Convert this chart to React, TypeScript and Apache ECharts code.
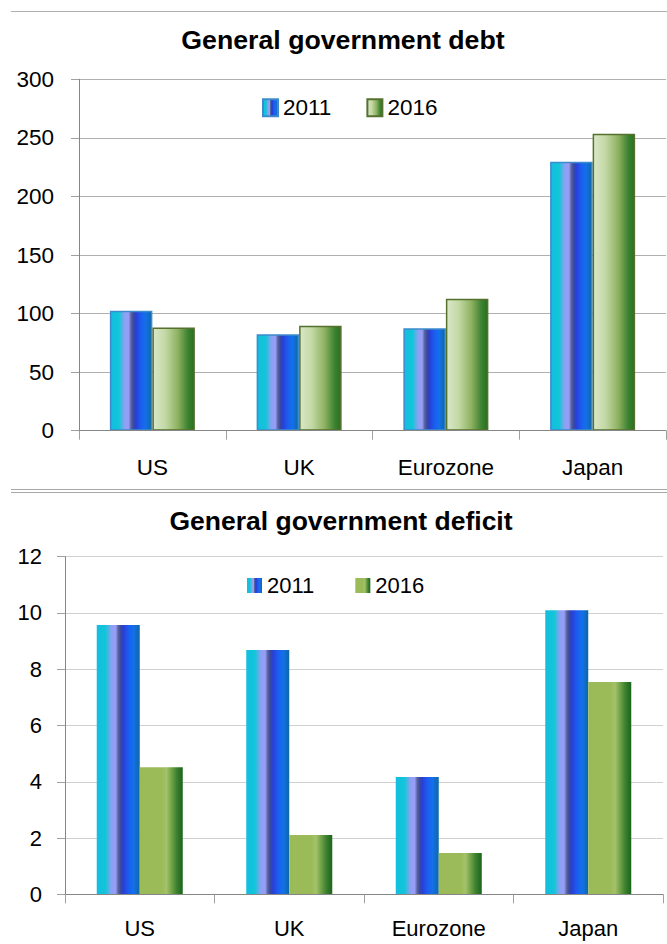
import React, { useEffect, useRef } from "react";
import * as echarts from "echarts";

const categories = ["US", "UK", "Eurozone", "Japan"];
const seriesNames = ["2011", "2016"];
const debt2011 = [102.5, 82.3, 87.4, 229.7];
const debt2016 = [88, 89.7, 112.7, 253.6];
const deficit2011 = [9.57, 8.68, 4.17, 10.1];
const deficit2016 = [4.52, 2.11, 1.47, 7.55];
const debtAxis = { min: 0, max: 300, interval: 50 };
const deficitAxis = { min: 0, max: 12, interval: 2 };
const titles = ["General government debt", "General government deficit"];

const FONT = "'Liberation Sans', Arial, sans-serif";

const grad = (stops: [number, string][]) =>
  new echarts.graphic.LinearGradient(
    0, 0, 1, 0,
    stops.map(([offset, color]) => ({ offset, color }))
  );

const blueStops: [number, string][] = [
  [0, "#14bde0"],
  [0.2, "#10c6d8"],
  [0.34, "#8aa2f2"],
  [0.44, "#9a9cf8"],
  [0.5, "#55649e"],
  [0.56, "#3a48a0"],
  [0.62, "#2a3ed8"],
  [0.74, "#1a5ef0"],
  [0.86, "#1470e8"],
  [1, "#0c68a4"],
];
const lightGreenStops: [number, string][] = [
  [0, "#dae8c8"],
  [0.3, "#c2d8a4"],
  [0.6, "#8fb262"],
  [0.85, "#3c8230"],
  [1, "#287020"],
];
const flatGreenStops: [number, string][] = [
  [0, "#9bbb59"],
  [0.52, "#9bbb59"],
  [0.62, "#a4c26c"],
  [0.72, "#7aa84c"],
  [0.86, "#3e8030"],
  [1, "#17661a"],
];

function baseAxes(
  yCfg: { min: number; max: number; interval: number },
  yMargin: number,
  xMargin: number,
  fontSize: number,
  splitColor: string
) {
  return {
    xAxis: {
      type: "category",
      data: categories,
      boundaryGap: true,
      z: 5,
      axisLine: { show: true, lineStyle: { color: "#868686", width: 1 } },
      axisTick: { show: true, length: 9, inside: false, lineStyle: { color: "#a0a0a0" } },
      axisLabel: { color: "#000", fontSize, fontFamily: FONT, margin: xMargin },
      splitLine: { show: false },
    },
    yAxis: {
      type: "value",
      min: yCfg.min,
      max: yCfg.max,
      interval: yCfg.interval,
      axisLine: { show: true, lineStyle: { color: "#868686", width: 1 } },
      axisTick: { show: true, length: 8, inside: false, lineStyle: { color: "#a0a0a0" } },
      axisLabel: { color: "#000", fontSize, fontFamily: FONT, margin: yMargin },
      splitLine: { show: true, lineStyle: { color: splitColor, width: 1 } },
    },
  };
}

export default function App() {
  const topRef = useRef<HTMLDivElement>(null);
  const botRef = useRef<HTMLDivElement>(null);

  useEffect(() => {
    document.body.style.margin = "0";
    const top = echarts.init(topRef.current!, undefined, { renderer: "svg" });
    const bot = echarts.init(botRef.current!, undefined, { renderer: "svg" });

    top.setOption({
      animation: false,
      grid: { left: 79, right: 1, top: 79.3, bottom: 57.3, containLabel: false },
      legend: {
        data: seriesNames,
        icon: "rect",
        left: 262,
        top: 96.25,
        padding: 0,
        itemWidth: 15,
        itemHeight: 17,
        itemGap: 35,
        textStyle: { color: "#000", fontSize: 22.5, fontFamily: FONT },
      },
      graphic: [
        {
          type: "line",
          shape: { x1: 11, y1: 11.5, x2: 667, y2: 11.5 },
          style: { stroke: "#b0b0b0", lineWidth: 1 },
        },
        {
          type: "text",
          x: 343,
          y: 40.4,
          style: {
            text: titles[0],
            align: "center",
            verticalAlign: "middle",
            fill: "#000",
            fontSize: 26.7,
            fontWeight: "bold",
            fontFamily: FONT,
          },
        },
      ],
      ...baseAxes(debtAxis, 25, 25.5, 22.5, "#b0b0b0"),
      series: [
        {
          name: seriesNames[0],
          type: "bar",
          data: debt2011,
          barWidth: 42.5,
          barGap: "0%",
          itemStyle: { color: grad(blueStops), borderColor: "#3d8acc", borderWidth: 1.5 },
        },
        {
          name: seriesNames[1],
          type: "bar",
          data: debt2016,
          barWidth: 42.5,
          barGap: "0%",
          itemStyle: { color: grad(lightGreenStops), borderColor: "#56702e", borderWidth: 1.5 },
        },
      ],
    });

    bot.setOption({
      animation: false,
      grid: { left: 65, right: 4, top: 68.7, bottom: 49.7, containLabel: false },
      legend: {
        data: seriesNames,
        icon: "rect",
        left: 247,
        top: 86.5,
        padding: 0,
        itemWidth: 15,
        itemHeight: 15,
        itemGap: 41,
        textStyle: { color: "#000", fontSize: 22, fontFamily: FONT },
      },
      graphic: [
        {
          type: "line",
          shape: { x1: 11, y1: 1.5, x2: 667, y2: 1.5 },
          style: { stroke: "#a8a8a8", lineWidth: 1 },
        },
        {
          type: "line",
          shape: { x1: 11, y1: 4.5, x2: 667, y2: 4.5 },
          style: { stroke: "#a8a8a8", lineWidth: 1 },
        },
        {
          type: "text",
          x: 341,
          y: 32.85,
          style: {
            text: titles[1],
            align: "center",
            verticalAlign: "middle",
            fill: "#000",
            fontSize: 26.5,
            fontWeight: "bold",
            fontFamily: FONT,
          },
        },
      ],
      ...baseAxes(deficitAxis, 23, 22.7, 22, "#d0d0d0"),
      series: [
        {
          name: seriesNames[0],
          type: "bar",
          data: deficit2011,
          barWidth: 43,
          barGap: "0%",
          itemStyle: { color: grad(blueStops) },
        },
        {
          name: seriesNames[1],
          type: "bar",
          data: deficit2016,
          barWidth: 43,
          barGap: "0%",
          itemStyle: { color: grad(flatGreenStops) },
        },
      ],
    });

    return () => {
      top.dispose();
      bot.dispose();
    };
  }, []);

  return (
    <div style={{ width: 667, height: 944, background: "#fff" }}>
      <div ref={topRef} style={{ width: 667, height: 488 }} />
      <div ref={botRef} style={{ width: 667, height: 456 }} />
    </div>
  );
}
